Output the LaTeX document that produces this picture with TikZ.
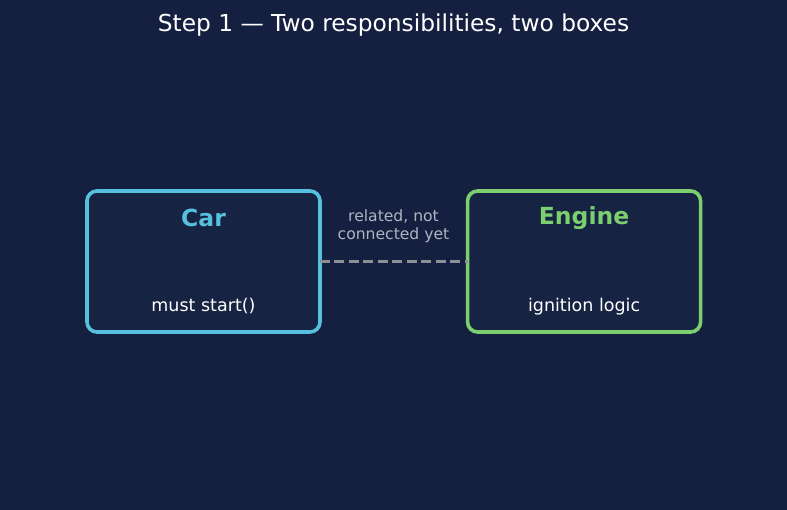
\documentclass[tikz,border=0pt]{standalone}
\usepackage{fontspec}
\setmainfont{DejaVu Sans}
\usepackage{xcolor}
\usepackage{tikz}
\usetikzlibrary{calc,positioning}
\definecolor{bgnavy}{HTML}{152040}
\definecolor{boxnavy}{HTML}{172342}
\definecolor{carcyan}{HTML}{56C0DF}
\definecolor{enginegreen}{HTML}{7CCF6F}
\definecolor{linkgray}{HTML}{8A8F98}
\definecolor{notegray}{HTML}{AEB4C0}

\begin{document}
\begin{tikzpicture}[
  x=1pt, y=1pt,
  node distance=144pt,
  classbox/.style={rectangle, rounded corners=10pt, fill=boxnavy, line width=3.6pt,
    minimum width=233pt, minimum height=141pt, inner sep=0pt},
  boxtitle/.style={font=\fontsize{23.5}{28}\selectfont\bfseries, inner sep=0pt},
  boxbody/.style={font=\fontsize{17.5}{21}\selectfont, text=white, inner sep=0pt},
  link/.style={draw=linkgray, line width=2.8pt, dash pattern=on 10pt off 4.5pt,
    shorten <=-2pt, shorten >=-2pt}
]
  % canvas
  \fill[bgnavy] (0,0) rectangle (787,510);
  \useasboundingbox (0,0) rectangle (787,510);
  \node[font=\fontsize{23.3}{28}\selectfont, text=white, inner sep=0pt] (title) at (393.5,485) {Step 1 — Two responsibilities, two boxes};
  % the two boxes
  \node[classbox, draw=carcyan] (car) at (203.5,248.5) {};
  \node[classbox, draw=enginegreen, right=of car] (engine) {};
  \node[boxtitle, text=carcyan] (cartitle) at ($(car.center)+(0,43.5)$) {Car};
  \node[boxbody] (carbody) at ($(car.center)+(0,-45)$) {must start()};
  \node[boxtitle, text=enginegreen] (enginetitle) at ($(engine.center)+(0,43.5)$) {Engine};
  \node[boxbody] (enginebody) at ($(engine.center)+(0,-45)$) {ignition logic};
  % not yet connected
  \draw[link] (car.east) -- (engine.west);
  \node[font=\fontsize{15.6}{18}\selectfont, text=notegray, align=center, inner sep=0pt] (note) at (393.5,284) {related, not\\connected yet};
\end{tikzpicture}
\end{document}
